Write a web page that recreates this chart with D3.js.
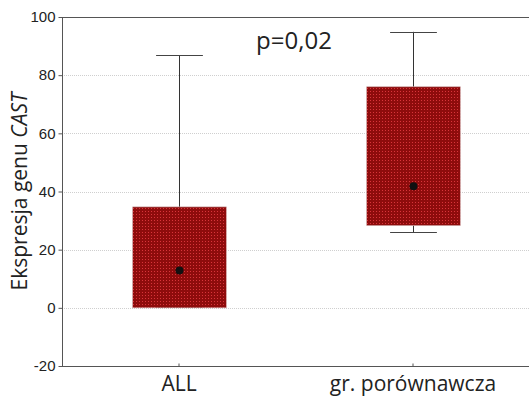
<!DOCTYPE html>
<html>
<head>
<meta charset="utf-8">
<script src="https://cdn.jsdelivr.net/npm/d3@7"></script>
<style>
  html, body { margin: 0; padding: 0; background: #fff; }
  svg { display: block; }
</style>
</head>
<body>
<script>
// Group summaries: whisker low/high, box low/high, central point
const categories = ["ALL", "gr. porównawcza"];
const whiskerLow  = [0, 25.8];
const boxLow      = [0, 28.3];
const centerValue = [12.8, 41.8];
const boxHigh     = [34.7, 76];
const whiskerHigh = [86.8, 94.9];
const yTicks = [-20, 0, 20, 40, 60, 80, 100];
const pLabel = "p=0,02";

const W = 529, H = 400;
const margin = { left: 62, top: 17, right: -1, bottom: 34 };

const svg = d3.select("body").append("svg").attr("width", W).attr("height", H);

// Dotted red fill
const defs = svg.append("defs");
const pat = defs.append("pattern")
  .attr("id", "dots").attr("patternUnits", "userSpaceOnUse")
  .attr("width", 3).attr("height", 3);
pat.append("rect").attr("width", 3).attr("height", 3).attr("fill", "#8e0c0c");
pat.append("rect").attr("x", 1).attr("y", 1).attr("width", 1).attr("height", 1).attr("fill", "#d8353a");

const x = d3.scaleBand().domain(categories)
  .range([margin.left, W - margin.right]).paddingInner(0).paddingOuter(0);
const y = d3.scaleLinear().domain([-20, 100]).range([H - margin.bottom, margin.top]);

// Grid lines
svg.append("g").selectAll("line").data(yTicks.filter(t => t > -20 && t < 100)).join("line")
  .attr("x1", margin.left).attr("x2", W)
  .attr("y1", d => Math.round(y(d)) + 0.5).attr("y2", d => Math.round(y(d)) + 0.5)
  .attr("stroke", "#cfcfcf").attr("stroke-width", 1).attr("stroke-dasharray", "1,1");

// Frame
svg.append("line").attr("x1", margin.left + 0.5).attr("x2", margin.left + 0.5)
  .attr("y1", y(100)).attr("y2", y(-20)).attr("stroke", "#555");
svg.append("line").attr("x1", margin.left).attr("x2", W)
  .attr("y1", Math.round(y(100)) + 0.5).attr("y2", Math.round(y(100)) + 0.5).attr("stroke", "#555");
svg.append("line").attr("x1", margin.left).attr("x2", W)
  .attr("y1", Math.round(y(-20)) + 0.5).attr("y2", Math.round(y(-20)) + 0.5).attr("stroke", "#555");

// Y axis
const yAxis = d3.axisLeft(y).tickValues(yTicks).tickSize(4).tickPadding(3)
  .tickFormat(d => String(d));
const gy = svg.append("g").attr("transform", `translate(${margin.left + 0.5},0)`).call(yAxis);
gy.select(".domain").remove();
gy.selectAll(".tick line").attr("stroke", "#555");
gy.selectAll(".tick text").attr("font-family", "Liberation Sans, Arial, sans-serif")
  .attr("font-size", 15).attr("fill", "#222");

// X axis ticks and labels
const xAxis = d3.axisBottom(x).tickSize(-3).tickPadding(10);
const gx = svg.append("g").attr("transform", `translate(0,${Math.round(y(-20)) + 0.5})`).call(xAxis);
gx.select(".domain").remove();
gx.selectAll(".tick line").attr("stroke", "#555");
gx.selectAll(".tick text").attr("font-family", "Open Sans, sans-serif")
  .attr("font-size", 21).attr("fill", "#222");

// Boxes
const bw = x.bandwidth() * 0.4;
const cw = bw * 0.5;
const groups = svg.append("g").selectAll("g").data(categories).join("g");
const cx = (d) => Math.round(x(d) + x.bandwidth() / 2) + 0.5;

groups.append("line")
  .attr("x1", cx).attr("x2", cx)
  .attr("y1", (d, i) => y(whiskerHigh[i])).attr("y2", (d, i) => y(boxHigh[i]))
  .attr("stroke", "#333");
groups.append("line")
  .attr("x1", cx).attr("x2", cx)
  .attr("y1", (d, i) => y(whiskerLow[i])).attr("y2", (d, i) => y(boxLow[i]))
  .attr("stroke", "#333");
groups.append("line")
  .attr("x1", d => cx(d) - cw / 2).attr("x2", d => cx(d) + cw / 2)
  .attr("y1", (d, i) => Math.round(y(whiskerHigh[i])) + 0.5).attr("y2", (d, i) => Math.round(y(whiskerHigh[i])) + 0.5)
  .attr("stroke", "#444");
groups.append("line")
  .attr("x1", d => cx(d) - cw / 2).attr("x2", d => cx(d) + cw / 2)
  .attr("y1", (d, i) => Math.round(y(whiskerLow[i])) - 0.5).attr("y2", (d, i) => Math.round(y(whiskerLow[i])) - 0.5)
  .attr("stroke", "#444");
groups.append("rect")
  .attr("x", d => cx(d) - bw / 2).attr("width", bw)
  .attr("y", (d, i) => y(boxHigh[i])).attr("height", (d, i) => y(boxLow[i]) - y(boxHigh[i]))
  .attr("fill", "url(#dots)").attr("stroke", "#c9a0a0").attr("stroke-width", 0.6);
groups.append("circle")
  .attr("cx", cx).attr("cy", (d, i) => y(centerValue[i]))
  .attr("r", 4)
  .attr("fill", "#111");

// Y title
const yt = svg.append("text")
  .attr("transform", `translate(27,${(y(100) + y(-20)) / 2}) rotate(-90)`)
  .attr("text-anchor", "middle")
  .attr("font-family", "Open Sans, sans-serif").attr("font-size", 21).attr("fill", "#222");
yt.append("tspan").text("Ekspresja genu ");
yt.append("tspan").attr("font-style", "italic").text("CAST");

// p-value annotation
svg.append("text").attr("x", 294).attr("y", 49).attr("text-anchor", "middle")
  .attr("font-family", "Open Sans, sans-serif").attr("font-size", 24).attr("fill", "#222")
  .text(pLabel);
</script>
</body>
</html>
